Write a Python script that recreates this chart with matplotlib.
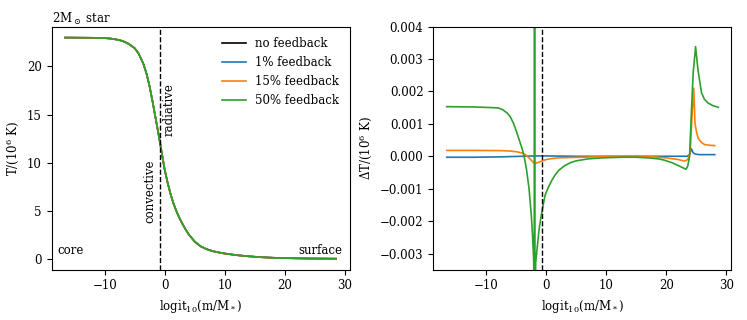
import matplotlib
matplotlib.use('Agg')
import matplotlib.pyplot as plt

plt.rcParams['font.family'] = 'DejaVu Serif'
plt.rcParams['mathtext.fontset'] = 'dejavuserif'
plt.rcParams['font.size'] = 8.5

# temperature profile (10^6 K) vs logit10(m/M*)
x_T = [-16.6, -12, -10, -9, -8, -7, -6, -5, -4.4, -4, -3.5, -3, -2.5, -2,
       -1.5, -1, -0.5, 0, 0.5, 1, 1.5, 2, 2.5, 3, 3.5, 4, 5, 6, 7, 8, 9, 10,
       12, 14, 16, 18, 20, 22, 24, 26, 28.6]
T = [23.0, 22.98, 22.95, 22.9, 22.8, 22.65, 22.35, 21.9, 21.4, 20.9, 20.2,
     19.2, 17.9, 16.3, 14.6, 12.9, 11.1, 9.3, 7.9, 6.7, 5.7, 4.9, 4.2, 3.6,
     3.05, 2.55, 1.8, 1.3, 1.0, 0.8, 0.66, 0.55, 0.38, 0.26, 0.17, 0.11,
     0.07, 0.05, 0.03, 0.02, 0.01]

# temperature differences (10^6 K)
x_1 = [-16.6, -12, -8, -6, -4, -2, 0, 5, 10, 15, 20, 23.5, 23.9, 24.2, 24.5,
       24.8, 25.5, 28.1]
dT_1 = [-0.00003, -0.00003, -0.00002, -0.00001, 0.0, 0.00001, 0.00001, 0.0,
        0.0, 0.0, 0.0, 0.0, 0.00005, 0.00023, 0.00011, 0.00007, 0.00005,
        0.00005]

x_15 = [-16.6, -12, -8, -7, -6, -5, -4, -3.5, -2.87, -2.4, -1.94, -1.5,
        -1.2, -0.5, 0, 1, 2, 3.8, 6, 10, 15, 18, 20, 22, 23.1, 23.6, 24.0,
        24.3, 24.6, 24.8, 25.0, 25.3, 25.8, 26.4, 27.2, 28.1]
dT_15 = [0.00018, 0.00018, 0.000175, 0.00017, 0.00016, 0.00014, 0.0001,
         0.00005, -0.00005, -0.00014, -0.00023, -0.0002, -0.00018, -0.00013,
         -0.0001, -0.00007, -0.00005, -0.00004, -0.00003, -0.00001, 0.0,
         -0.00002, -0.00005, -0.0001, -0.00015, -0.0001, 0.0001, 0.0012,
         0.0021, 0.00103, 0.0008, 0.00057, 0.00044, 0.00036, 0.00034,
         0.00033]

x_50 = [-16.6, -12, -9, -8, -7.3, -6.5, -6, -5.5, -5, -4.5, -4, -3.7, -3.3,
        -2.87, -2.5, -2.3, -2.1, -1.98, -1.95, -1.92, -1.77, -1.5, -1.2,
        -0.9, -0.66, -0.2, 0.44, 1, 1.5, 2.1, 3, 4, 5, 7, 9.3, 12.6, 15, 17,
        18.7, 19.5, 21, 22.5, 23.3, 23.6, 23.9, 24.2, 24.5, 24.9, 25.3, 25.9,
        26.4, 27, 27.8, 28.7]
dT_50 = [0.00153, 0.00152, 0.0015, 0.00149, 0.00144, 0.00133, 0.00122,
         0.00103, 0.00078, 0.0005, 0.00022, 0.0, -0.0004, -0.001, -0.0018,
         -0.0024, -0.0032, -0.005, 0.01, -0.01, -0.0033, -0.0028, -0.00226,
         -0.0019, -0.00164, -0.0012, -0.00092, -0.00072, -0.00057, -0.00043,
         -0.0003, -0.0002, -0.00014, -0.00008, -0.00005, -0.00003, -0.00003,
         -0.00005, -0.00008, -0.00011, -0.0002, -0.00033, -0.0004, -0.0003,
         0.0, 0.00134, 0.00257, 0.00338, 0.00267, 0.00195, 0.00175, 0.00164,
         0.00156, 0.00151]

labels = ['no feedback', '1% feedback', '15% feedback', '50% feedback']
colors = ['black', 'C0', 'C1', 'C2']
boundary = -0.75

fig, (ax1, ax2) = plt.subplots(1, 2, figsize=(7.47, 3.2), dpi=100)
fig.subplots_adjust(left=0.069, right=0.979, bottom=0.157, top=0.917,
                    wspace=0.28)

for lab, c in zip(labels, colors):
    ax1.plot(x_T, T, color=c, lw=1.2, label=lab)
ax1.axvline(boundary, color='black', ls='--', lw=1)
ax1.text(boundary - 0.7, 10.3, 'convective', rotation=90, ha='right',
         va='top')
ax1.text(boundary + 0.4, 12.8, 'radiative', rotation=90, ha='left',
         va='bottom')
ax1.text(-17.9, 0.5, 'core')
ax1.text(29.6, 0.5, 'surface', ha='right')
ax1.set_xlabel(r'logit$_{10}$(m/M$_*$)')
ax1.set_ylabel(r'T/(10$^6$ K)')
ax1.set_title(r'2M$_\odot$ star', loc='left', fontsize=8.5, pad=2)
ax1.legend(frameon=False, loc='upper right')

ax2.plot(x_1, dT_1, color='C0', lw=1.2)
ax2.plot(x_15, dT_15, color='C1', lw=1.2)
ax2.plot(x_50, dT_50, color='C2', lw=1.2)
ax2.axvline(boundary, color='black', ls='--', lw=1)
ax2.set_xlim(ax1.get_xlim())
ax2.set_ylim(-0.0035, 0.004)
ax2.set_xlabel(r'logit$_{10}$(m/M$_*$)')
ax2.set_ylabel(r'$\Delta$T/(10$^6$ K)')

fig.savefig('out.png', dpi=100)
